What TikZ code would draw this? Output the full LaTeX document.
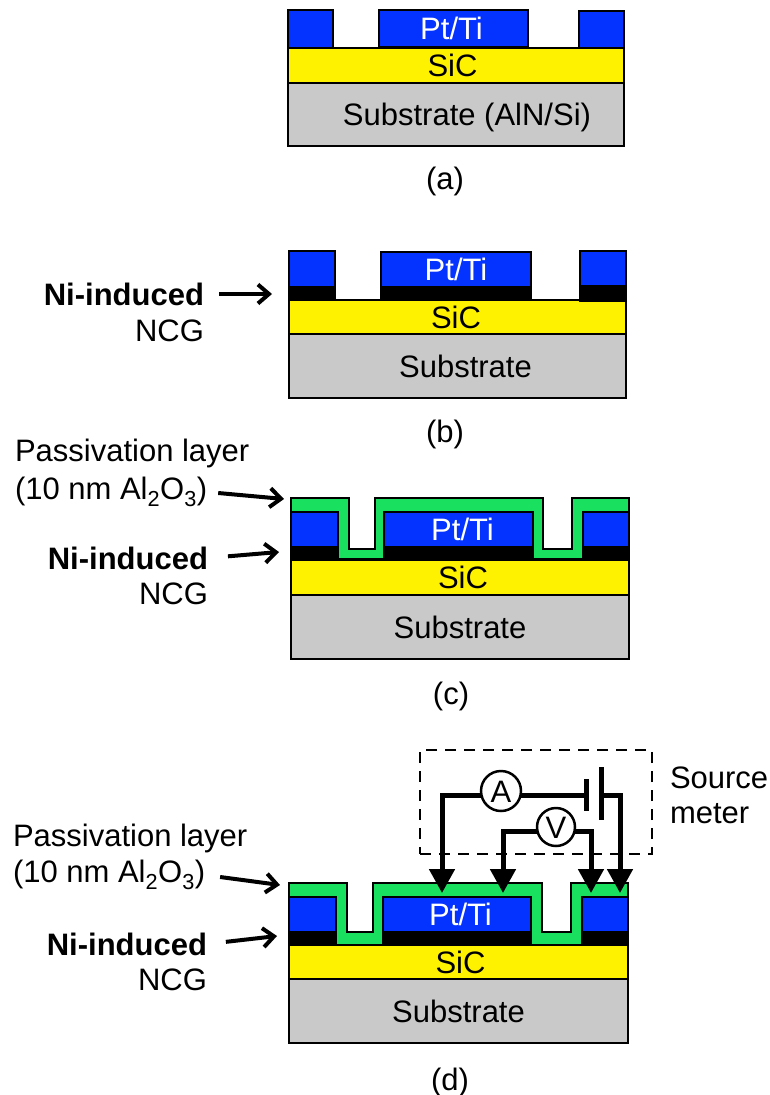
\documentclass[tikz,border=0pt]{standalone}
\usepackage{fontspec}
\setmainfont{Liberation Sans}
\usetikzlibrary{positioning, arrows.meta}
\definecolor{metalblue}{HTML}{0433FF}
\definecolor{passgreen}{HTML}{1AE05F}
\tikzset{
    every node/.style={font=\fontsize{31}{36}\selectfont, inner sep=0pt, outer sep=0pt}, % same text size everywhere
    layer/.style={draw=black, line width=2.5pt, text height=22pt, text depth=0pt},
    substrate/.style={layer, fill=black!21},
    sic/.style={layer, fill=yellow, minimum height=35pt},
    metal/.style={layer, fill=metalblue, text=white, minimum height=35pt},
    nilayer/.style={layer, fill=black, minimum height=13pt, text height=0pt},
    passivation/.style={draw=black, line width=2.5pt, fill=passgreen},
    lead/.style={-{Straight Barb[length=11pt, width=19pt, line width=4pt]}, line width=4pt},
    wire/.style={line width=5pt},
    probe/.style={wire, -{Triangle[length=24pt, width=25pt]}},
    meter/.style={circle, draw=black, line width=2.5pt, fill=white, text height=22pt, text depth=0pt},
    plate/.style={fill=black, minimum width=5pt},
    sidelabel/.style={anchor=east},
    leftlabel/.style={anchor=west},
    caption/.style={anchor=center, text height=22pt, text depth=0pt},
}
\begin{document}
\begin{tikzpicture}[x=1pt, y=-1pt]
    \useasboundingbox (0,0) rectangle (770,1095);
    % (a)
    \node[substrate, minimum width=336pt, minimum height=63pt] (suba) at (456,114.5) {\hspace*{22pt}Substrate (AlN/Si)};
    \node[sic, minimum width=336pt, above=0pt of suba] (sica) {\hspace*{-7pt}SiC};
    \node[metal, minimum width=149pt, minimum height=37pt, anchor=south] (pta) at (453.5,47) {\hspace*{-4pt}Pt/Ti};
    \node[metal, minimum width=45pt, minimum height=38pt, anchor=south west] (conal) at (sica.north west) {};
    \node[metal, minimum width=45pt, minimum height=37pt, anchor=south east] (conar) at (sica.north east) {};
    \node[caption] (capa) at (445,178) {(a)};
    % (b)
    \node[substrate, minimum width=337pt, minimum height=64pt] (subb) at (457.5,366) {\hspace*{16pt}Substrate};
    \node[sic, minimum width=337pt, minimum height=34pt, above=0pt of subb] (sicb) {\hspace*{-3pt}SiC};
    \node[nilayer, minimum width=46pt, anchor=south west] (nibl) at (sicb.north west) {};
    \node[nilayer, minimum width=150pt, anchor=south] (nibm) at (456,300) {};
    \node[nilayer, minimum width=46pt, minimum height=15pt, anchor=south east] (nibr) at ([yshift=-1pt]sicb.north east) {};
    \node[metal, minimum width=46pt, minimum height=36pt, above=0pt of nibl] (conbl) {};
    \node[metal, minimum width=150pt, above=0pt of nibm] (ptb) {Pt/Ti};
    \node[metal, minimum width=46pt, above=0pt of nibr] (conbr) {};
    \node[sidelabel] (nib) at (204,294) {\bfseries Ni-induced};
    \node[sidelabel] (ncgb) at (204,331) {NCG};
    \coordinate (tipb) at (272,294);
    \draw[lead, shorten <=15pt] (nib.east) -- (tipb);
    \node[caption] (capb) at (445,431) {(b)};
    % (c)
    \node[substrate, minimum width=338pt, minimum height=64pt] (subc) at (460,627) {Substrate};
    \node[sic, minimum width=338pt, above=0pt of subc] (sicc) {\hspace*{6pt}SiC};
    \node[nilayer, minimum width=47pt, anchor=south west] (nicl) at (sicc.north west) {};
    \node[nilayer, minimum width=149pt, anchor=south] (nicm) at (458.5,560) {};
    \node[nilayer, minimum width=46pt, anchor=south east] (nicr) at (sicc.north east) {};
    \node[metal, minimum width=47pt, above=0pt of nicl] (concl) {};
    \node[metal, minimum width=149pt, above=0pt of nicm] (ptc) {\hspace*{8pt}Pt/Ti};
    \node[metal, minimum width=46pt, above=0pt of nicr] (concr) {};
    \draw[passivation] (291,498) -- (349,498) -- (349,549) -- (375,549) -- (375,498) -- (543,498) -- (543,549) -- (572,549) -- (572,498) -- (629,498)
        -- (629,512) -- (583,512) -- (583,559) -- (533,559) -- (533,512) -- (384,512) -- (384,559) -- (338,559) -- (338,512) -- (291,512) -- cycle;
    \node[leftlabel] (pasc) at (15,453) {Passivation layer};
    \node[leftlabel] (alc) at (15,492) {(10 nm Al\textsubscript{2}O\textsubscript{3})};
    \node[sidelabel] (nic) at (208,558) {\bfseries Ni-induced};
    \node[sidelabel] (ncgc) at (208,594) {NCG};
    \coordinate (tipcp) at (284,499);
    \coordinate (tipcn) at (279,552);
    \draw[lead, shorten <=11pt] (alc.east) -- (tipcp);
    \draw[lead, shorten <=20pt] (nic.east) -- (tipcn);
    \node[caption] (capc) at (451,693) {(c)};
    % (d)
    \node[substrate, minimum width=339pt, minimum height=64pt] (subd) at (458.5,1011) {Substrate};
    \node[sic, minimum width=339pt, minimum height=34pt, above=0pt of subd] (sicd) {\hspace*{4pt}SiC};
    \node[nilayer, minimum width=47pt, anchor=south west] (nidl) at (sicd.north west) {};
    \node[nilayer, minimum width=148pt, anchor=south] (nidm) at (457,945) {};
    \node[nilayer, minimum width=46pt, anchor=south east] (nidr) at (sicd.north east) {};
    \node[metal, minimum width=47pt, above=0pt of nidl] (condl) {};
    \node[metal, minimum width=148pt, above=0pt of nidm] (ptd) {\hspace*{7pt}Pt/Ti};
    \node[metal, minimum width=46pt, above=0pt of nidr] (condr) {};
    \draw[passivation] (289,883) -- (347,883) -- (347,932) -- (373,932) -- (373,883) -- (542,883) -- (542,932) -- (571,932) -- (571,883) -- (628,883)
        -- (628,897) -- (582,897) -- (582,945) -- (531,945) -- (531,897) -- (383,897) -- (383,945) -- (336,945) -- (336,897) -- (289,897) -- cycle;
    \node[leftlabel] (pasd) at (13,838) {Passivation layer};
    \node[leftlabel] (ald) at (13,875) {(10 nm Al\textsubscript{2}O\textsubscript{3})};
    \node[sidelabel] (nid) at (207,944) {\bfseries Ni-induced};
    \node[sidelabel] (ncgd) at (207,980) {NCG};
    \coordinate (tipdp) at (280,885);
    \coordinate (tipdn) at (277,936);
    \draw[lead, shorten <=15pt] (ald.east) -- (tipdp);
    \draw[lead, shorten <=19pt] (nid.east) -- (tipdn);
    \node[caption] (capd) at (450,1079) {(d)};
    % source meter
    \node[draw=black, line width=2.5pt, dash pattern=on 11pt off 8pt, minimum width=232pt, minimum height=104pt] (box) at (536,802) {};
    \node[leftlabel] (srcl) at (670,778) {Source};
    \node[leftlabel] (metl) at (670,814) {meter};
    \node[meter, minimum size=40pt] (amm) at (501,791) {A};
    \node[meter, minimum size=38pt] (vol) at (556,827) {V};
    \node[plate, minimum height=32pt] (plus) at (586,795) {};
    \node[plate, minimum height=53pt] (minus) at (601,793.5) {};
    \coordinate (tipa) at (442,893);
    \coordinate (tipv) at (503,893);
    \coordinate (tipc) at (591,893);
    \coordinate (tipd) at (620,893);
    \draw[wire] ([yshift=-4pt]amm.east) -- (plus);
    \draw[probe] ([yshift=-4pt]amm.west) -| (tipa);
    \draw[probe] (minus.east |- plus) -| (tipd);
    \draw[probe] ([yshift=-4pt]vol.west) -| (tipv);
    \draw[probe] ([yshift=-4pt]vol.east) -| (tipc);
\end{tikzpicture}
\end{document}
